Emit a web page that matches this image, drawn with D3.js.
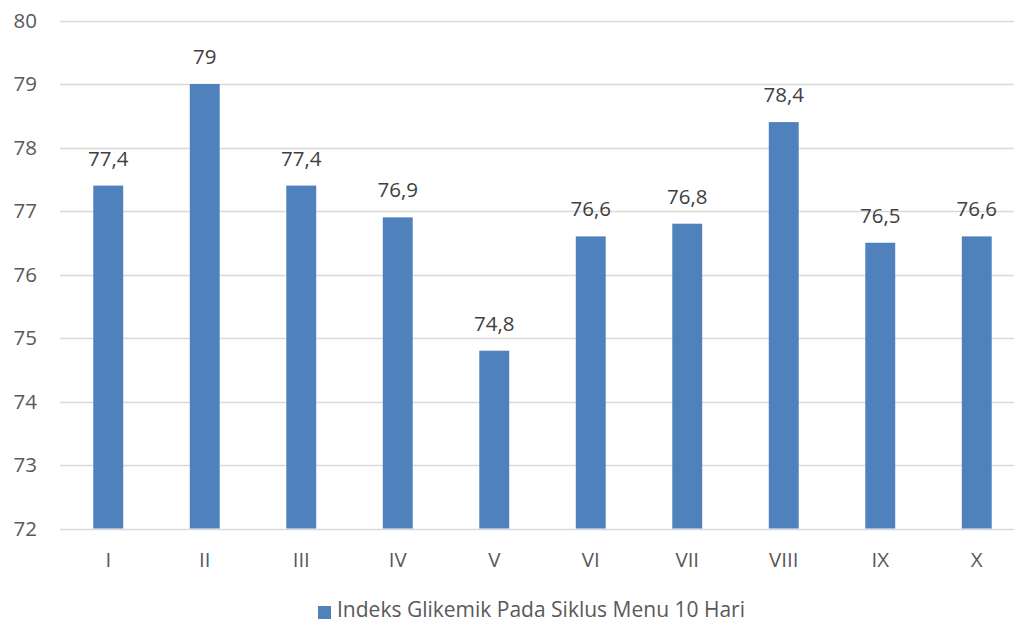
<!DOCTYPE html>
<html>
<head>
<meta charset="utf-8">
<script src="https://d3js.org/d3.v7.min.js"></script>
<style>
body { margin: 0; background: #fff; font-family: 'Open Sans', sans-serif; }
svg { display: block; }
</style>
</head>
<body>
<div id="chart"></div>
<script>

var width = 1014;
var height = 623;

var categories = ["I", "II", "III", "IV", "V", "VI", "VII", "VIII", "IX", "X"];
var values = [77.4, 79, 77.4, 76.9, 74.8, 76.6, 76.8, 78.4, 76.5, 76.6];
var yTicks = [72, 73, 74, 75, 76, 77, 78, 79, 80];
var seriesName = "Indeks Glikemik Pada Siklus Menu 10 Hari";

var barColor = "#4f81bd";
var fontSize = "20.5px";

var svg = d3.select("#chart")
  .append("svg")
  .attr("width", width)
  .attr("height", height);

var x = d3.scaleBand()
  .domain(categories)
  .range([60, 1025])
  .paddingInner(0.69)
  .paddingOuter(0.345);

var y = d3.scaleLinear()
  .domain([72, 80])
  .range([528.5, 20.5]);

// gridlines
svg.append("g")
  .selectAll("line")
  .data(yTicks)
  .enter()
  .append("line")
  .attr("x1", 60)
  .attr("x2", width)
  .attr("y1", d => Math.round(y(d)) + 0.5)
  .attr("y2", d => Math.round(y(d)) + 0.5)
  .style("stroke", "#d9d9d9")
  .style("stroke-width", 1.3);

// y labels
svg.append("g")
  .selectAll("text")
  .data(yTicks)
  .enter()
  .append("text")
  .attr("x", 37)
  .attr("y", d => y(d))
  .attr("dy", "0.35em")
  .attr("text-anchor", "end")
  .style("font-size", fontSize)
  .style("fill", "#595959")
  .text(d => d);

// bars
svg.append("g")
  .selectAll("rect")
  .data(values)
  .enter()
  .append("rect")
  .attr("x", (d, i) => x(categories[i]))
  .attr("y", d => y(d))
  .attr("width", x.bandwidth())
  .attr("height", d => y(72) - y(d))
  .style("fill", barColor);

// value labels
svg.append("g")
  .selectAll("text")
  .data(values)
  .enter()
  .append("text")
  .attr("x", (d, i) => x(categories[i]) + x.bandwidth() / 2)
  .attr("y", d => y(d) - 20)
  .attr("text-anchor", "middle")
  .style("font-size", fontSize)
  .style("fill", "#404040")
  .text(d => String(d).replace(".", ","));

// x labels
svg.append("g")
  .selectAll("text")
  .data(categories)
  .enter()
  .append("text")
  .attr("x", d => x(d) + x.bandwidth() / 2)
  .attr("y", 560)
  .attr("dy", "0.35em")
  .attr("text-anchor", "middle")
  .style("font-size", fontSize)
  .style("fill", "#595959")
  .text(d => d);

// legend
var legend = svg.append("g");
legend.append("rect")
  .attr("x", 318)
  .attr("y", 606)
  .attr("width", 13)
  .attr("height", 13)
  .style("fill", barColor);
legend.append("text")
  .attr("x", 337)
  .attr("y", 610)
  .attr("dy", "0.35em")
  .style("font-size", "21px")
  .style("fill", "#595959")
  .text(seriesName);

</script>
</body>
</html>
